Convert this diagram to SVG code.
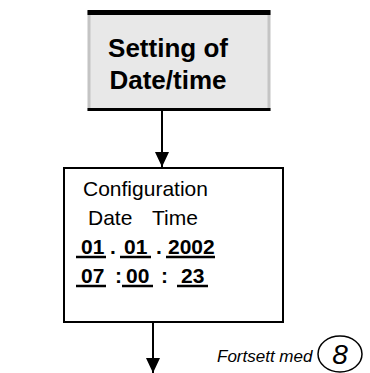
<svg xmlns="http://www.w3.org/2000/svg" width="370" height="373" viewBox="0 0 370 373">
<style>
.t{font-family:"Liberation Sans",Arial,sans-serif;fill:#000}
.b{font-weight:bold}
.ln{stroke:#000;fill:none}
</style>
<defs>
<marker id="ah" markerWidth="15" markerHeight="14" refX="15" refY="7" orient="auto" markerUnits="userSpaceOnUse" viewBox="0 0 15 14">
<path d="M0,0 L15,7 L0,14 Z" fill="#000"/>
</marker>
</defs>
<rect width="370" height="373" fill="#fff"/>
<g id="node-setting">
<rect x="89" y="12" width="180" height="97.5" fill="#e8e8e8" stroke="#c4c4c4" stroke-width="3"/>
<line class="ln" x1="87.5" y1="12.5" x2="270.5" y2="12.5" stroke-width="5"/>
<line class="ln" x1="87.5" y1="109.5" x2="270.5" y2="109.5" stroke-width="3"/>
<text class="t b" x="168" y="57" font-size="26" text-anchor="middle">Setting of</text>
<text class="t b" x="168" y="89" font-size="26" text-anchor="middle">Date/time</text>
</g>
<g id="node-config">
<rect x="64" y="168" width="219" height="154" fill="#fff" stroke="#000" stroke-width="2"/>
<text class="t" x="83" y="196" font-size="21">Configuration</text>
<text class="t" x="88" y="225" font-size="21">Date</text>
<text class="t" x="152" y="225" font-size="21">Time</text>
<text class="t b" x="81" y="254" font-size="21">01</text>
<text class="t b" x="110" y="254" font-size="21">.</text>
<text class="t b" x="124" y="254" font-size="21">01</text>
<text class="t b" x="156" y="254" font-size="21">.</text>
<text class="t b" x="168" y="254" font-size="21">2002</text>
<line class="ln" x1="76" y1="257" x2="106" y2="257" stroke-width="2.5"/>
<line class="ln" x1="120" y1="257" x2="151" y2="257" stroke-width="2.5"/>
<line class="ln" x1="166" y1="257" x2="215" y2="257" stroke-width="2.5"/>
<text class="t b" x="81" y="283" font-size="21">07</text>
<text class="t b" x="115" y="283" font-size="21">:</text>
<text class="t b" x="126" y="283" font-size="21">00</text>
<text class="t b" x="161" y="283" font-size="21">:</text>
<text class="t b" x="181" y="283" font-size="21">23</text>
<line class="ln" x1="76" y1="286" x2="106" y2="286" stroke-width="2.5"/>
<line class="ln" x1="122" y1="286" x2="153" y2="286" stroke-width="2.5"/>
<line class="ln" x1="177" y1="286" x2="208" y2="286" stroke-width="2.5"/>
</g>
<g id="node-continue">
<text class="t" x="217" y="362" font-size="17" font-style="italic">Fortsett med</text>
<ellipse cx="340" cy="354" rx="22" ry="18" fill="none" stroke="#000" stroke-width="1.5"/>
<text class="t" x="340" y="364" font-size="28" font-style="italic" text-anchor="middle">8</text>
</g>
<g id="connectors">
<line class="ln" x1="162" y1="111" x2="162" y2="167" stroke-width="2" marker-end="url(#ah)"/>
<line class="ln" x1="153" y1="323" x2="153" y2="373" stroke-width="2" marker-end="url(#ah)"/>
</g>
</svg>
